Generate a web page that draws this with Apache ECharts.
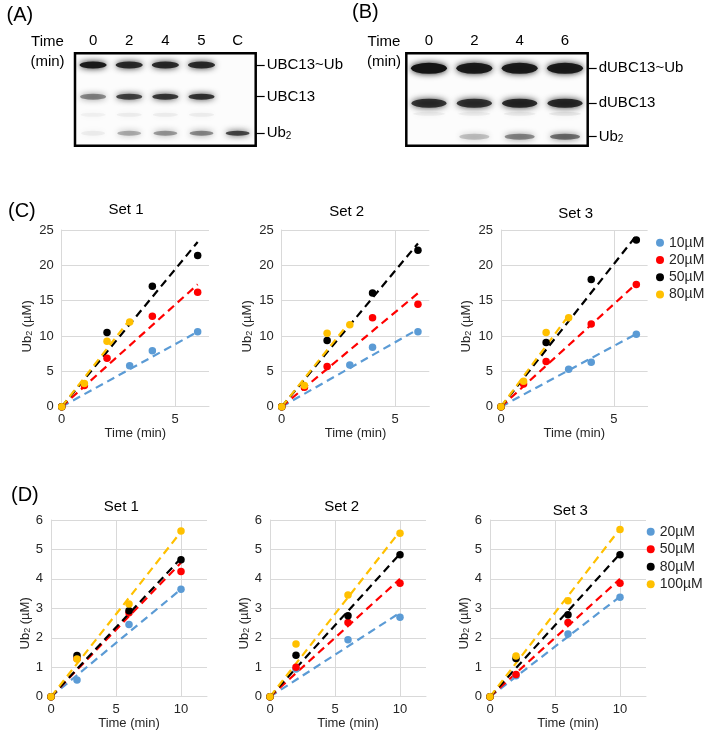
<!DOCTYPE html>
<html><head><meta charset="utf-8">
<script src="https://cdn.jsdelivr.net/npm/echarts@6/dist/echarts.min.js"></script>
<style>html,body{margin:0;padding:0;background:#fff}#c{width:704px;height:740px}</style>
</head><body><div id="c"></div>
<script>
// ---------- Gel (A) ----------
const gelALanes = ['0', '2', '4', '5', 'C'];
const gelALabelPos = [12.7, 47, 86.6];
const gelALabels = ['UBC13~Ub', 'UBC13', 'Ub2'];
const gelABandPos = [12.7, 47, 66.5, 86.6];
const gelAUbc13Ub = [0.95, 0.85, 0.85, 0.85, 0];
const gelAUbc13 = [0.42, 0.72, 0.78, 0.8, 0];
const gelAFaint = [0.04, 0.05, 0.05, 0.05, 0];
const gelAUb2 = [0.05, 0.28, 0.36, 0.42, 0.72];
// ---------- Gel (B) ----------
const gelBLanes = ['0', '2', '4', '6'];
const gelBLabelPos = [16.2, 54.1, 90.3];
const gelBLabels = ['dUBC13~Ub', 'dUBC13', 'Ub2'];
const gelBBandPos = [16.2, 54.1, 65.5, 90.3];
const gelBUbc13Ub = [1, 0.95, 0.95, 0.95];
const gelBUbc13 = [0.8, 0.8, 0.85, 0.85];
const gelBFaint = [0.05, 0.05, 0.06, 0.07];
const gelBUb2 = [0, 0.2, 0.42, 0.52];

// ---------- Panel (C) ----------
const cNames = ['10µM', '20µM', '50µM', '80µM'];
const cTime10 = [0, 3, 4, 6];
const cTime20 = [0, 1, 2, 4, 6];
const cTime50 = [0, 2, 4, 6];
const cTime80 = [0, 1, 2, 3];
const cSet1_10 = [0, 5.8, 7.9, 10.6];
const cSet1_20 = [0, 3.0, 6.85, 12.8, 16.2];
const cSet1_50 = [0, 10.5, 17.05, 21.4];
const cSet1_80 = [0, 3.3, 9.25, 12.0];
const cSet2_10 = [0, 5.9, 8.4, 10.6];
const cSet2_20 = [0, 2.75, 5.67, 12.6, 14.5];
const cSet2_50 = [0, 9.35, 16.1, 22.15];
const cSet2_80 = [0, 3.0, 10.4, 11.6];
const cSet3_10 = [0, 5.3, 6.3, 10.25];
const cSet3_20 = [0, 3.2, 6.4, 11.7, 17.3];
const cSet3_50 = [0, 9.1, 18.0, 23.6];
const cSet3_80 = [0, 3.6, 10.5, 12.6];
const cTrendTime = [6, 6, 6, 3];
const cSet1Trend = [10.6, 17.3, 23.3, 12.3];
const cSet2Trend = [10.95, 16.05, 23.1, 12.0];
const cSet3Trend = [10.3, 17.4, 24.2, 12.9];

// ---------- Panel (D) ----------
const dNames = ['20µM', '50µM', '80µM', '100µM'];
const dTime = [0, 2, 6, 10];
const dSet1_20 = [0, 0.57, 2.45, 3.65];
const dSet1_50 = [0, 1.3, 2.85, 4.25];
const dSet1_80 = [0, 1.4, 2.92, 4.65];
const dSet1_100 = [0, 1.28, 3.15, 5.63];
const dSet2_20 = [0, 0.94, 1.93, 2.7];
const dSet2_50 = [0, 1.0, 2.52, 3.85];
const dSet2_80 = [0, 1.41, 2.75, 4.82];
const dSet2_100 = [0, 1.79, 3.45, 5.55];
const dSet3_20 = [0, 0.71, 2.13, 3.38];
const dSet3_50 = [0, 0.75, 2.52, 3.85];
const dSet3_80 = [0, 1.3, 2.78, 4.82];
const dSet3_100 = [0, 1.38, 3.26, 5.68];
const dTrendTime = [10, 10, 10, 10];
const dSet1Trend = [3.65, 4.55, 4.7, 5.6];
const dSet2Trend = [2.85, 4.0, 4.85, 5.62];
const dSet3Trend = [3.4, 4.0, 4.85, 5.7];

// ---------- build ----------
const FONT = 'Liberation Sans, Arial, sans-serif';
const COLORS = ['#5b9bd5', '#ff0000', '#000000', '#ffc000'];
const TXT = '#262626';
const GRID_C = '#d9d9d9';

const grids = [
  {left: 75, top: 53.3, width: 180.7, height: 92.4},
  {left: 406.3, top: 53.3, width: 181.4, height: 92.4},
  {left: 61.7, top: 230, width: 147.3, height: 176.7},
  {left: 281.7, top: 230, width: 147.6, height: 176.7},
  {left: 501, top: 230, width: 146.6, height: 176.7},
  {left: 51, top: 520, width: 156, height: 176.7},
  {left: 270, top: 520, width: 156, height: 176.7},
  {left: 490, top: 520, width: 156, height: 176.7}
].map((g, i) => Object.assign(g, i < 2 ? {show: true, borderColor: '#000', borderWidth: 2.5, backgroundColor: '#fcfcfc'} : {}));

const xAxes = [], yAxes = [], series = [];
const subRich = {a: {fontSize: 15, color: '#000', fontFamily: FONT}, s: {fontSize: 10, color: '#000', fontFamily: FONT, verticalAlign: 'bottom', lineHeight: 10, padding: [8, 0, 0, 0]}};

function gel(gi, lanes, labelPos, labels, bandPos, bands, sizes) {
  xAxes.push({gridIndex: gi, type: 'category', data: lanes, position: 'top', boundaryGap: true,
    axisLine: {show: false}, axisTick: {show: false}, splitLine: {show: false},
    axisLabel: {fontSize: 15, color: '#000', fontFamily: FONT, margin: 5}});
  yAxes.push({gridIndex: gi, type: 'value', min: 0, max: 100, inverse: true, position: 'right',
    axisLine: {show: false}, splitLine: {show: false},
    axisTick: {show: true, customValues: labelPos, length: 9, lineStyle: {color: '#000', width: 1.2}},
    axisLabel: {customValues: labelPos, margin: 11, fontSize: 15, color: '#000', fontFamily: FONT,
      formatter: v => { const l = labels[labelPos.indexOf(v)]; return l === 'Ub2' ? '{a|Ub}{s|2}' : '{a|' + l + '}'; },
      rich: subRich}});
  const data = [];
  bands.forEach((arr, b) => arr.forEach((v, i) => { if (v > 0) data.push({value: [i, bandPos[b], b], itemStyle: {opacity: v}}); }));
  series.push({type: 'scatter', xAxisIndex: gi, yAxisIndex: gi, data, symbol: 'circle', silent: true,
    symbolSize: val => sizes[val[2]],
    itemStyle: {color: '#151515', shadowBlur: 6, shadowColor: '#151515'}});
}
gel(0, gelALanes, gelALabelPos, gelALabels, gelABandPos, [gelAUbc13Ub, gelAUbc13, gelAFaint, gelAUb2], [[27, 7], [26, 6], [25, 4], [24, 5]]);
gel(1, gelBLanes, gelBLabelPos, gelBLabels, gelBBandPos, [gelBUbc13Ub, gelBUbc13, gelBFaint, gelBUb2], [[36, 11], [35, 9], [32, 4], [30, 6]]);

const axisText = {fontSize: 13, color: TXT, fontFamily: FONT};
function plot(gi, xmax, xint, ymax, yint, nameGapY, nameGapX, padY, times, vals, trendT, trendEnd, names, prefix) {
  xAxes.push({gridIndex: gi, type: 'value', min: 0, max: xmax, interval: xint,
    axisLine: {show: true, lineStyle: {color: GRID_C}}, axisTick: {show: false},
    splitLine: {show: true, showMaxLine: false, lineStyle: {color: GRID_C}},
    axisLabel: Object.assign({showMaxLabel: false, margin: 6}, axisText),
    name: 'Time (min)', nameLocation: 'middle', nameGap: nameGapX, nameTextStyle: axisText});
  yAxes.push({gridIndex: gi, type: 'value', min: 0, max: ymax, interval: yint,
    axisLine: {show: true, lineStyle: {color: GRID_C}}, axisTick: {show: false},
    splitLine: {show: true, lineStyle: {color: GRID_C}},
    axisLabel: Object.assign({margin: 8}, axisText),
    name: '{a|Ub}{s|2}{a| (µM)}', nameLocation: 'middle', nameGap: nameGapY, nameRotate: 90,
    nameTextStyle: {padding: [0, padY, 0, 0], rich: {a: axisText, s: {fontSize: 9, color: TXT, fontFamily: FONT, verticalAlign: 'bottom', lineHeight: 9, padding: [6, 0, 0, 0]}}}});
  for (let k = 0; k < 4; k++) {
    series.push({type: 'line', xAxisIndex: gi, yAxisIndex: gi, data: [[0, 0], [trendT[k], trendEnd[k]]],
      symbol: 'none', silent: true, z: 2, lineStyle: {color: COLORS[k], width: 2.2, type: [8, 5]}});
  }
  for (let k = 0; k < 4; k++) {
    series.push({type: 'scatter', name: prefix + names[k], xAxisIndex: gi, yAxisIndex: gi,
      data: times[k].map((t, j) => [t, vals[k][j]]), symbolSize: 7.5, z: 3,
      itemStyle: {color: COLORS[k], opacity: 1}});
  }
}
const cTimes = [cTime10, cTime20, cTime50, cTime80];
plot(2, 6.5, 5, 25, 5, 28, 14, 16, cTimes, [cSet1_10, cSet1_20, cSet1_50, cSet1_80], cTrendTime, cSet1Trend, cNames, 'C:');
plot(3, 6.5, 5, 25, 5, 28, 14, 16, cTimes, [cSet2_10, cSet2_20, cSet2_50, cSet2_80], cTrendTime, cSet2Trend, cNames, 'C:');
plot(4, 6.5, 5, 25, 5, 28, 14, 16, cTimes, [cSet3_10, cSet3_20, cSet3_50, cSet3_80], cTrendTime, cSet3Trend, cNames, 'C:');
const dTimes = [dTime, dTime, dTime, dTime];
plot(5, 12, 5, 6, 1, 19, 20, 30, dTimes, [dSet1_20, dSet1_50, dSet1_80, dSet1_100], dTrendTime, dSet1Trend, dNames, 'D:');
plot(6, 12, 5, 6, 1, 19, 20, 30, dTimes, [dSet2_20, dSet2_50, dSet2_80, dSet2_100], dTrendTime, dSet2Trend, dNames, 'D:');
plot(7, 12, 5, 6, 1, 19, 20, 30, dTimes, [dSet3_20, dSet3_50, dSet3_80, dSet3_100], dTrendTime, dSet3Trend, dNames, 'D:');

function t(text, x, y, size, align) {
  return {text, left: x, top: y, textAlign: align || 'left', textVerticalAlign: 'middle', padding: 0,
    textStyle: {fontSize: size, fontWeight: 'normal', color: '#000', fontFamily: FONT}};
}
const titles = [
  t('(A)', 6.5, 15.5, 20), t('(B)', 352, 12, 20), t('(C)', 8, 211, 20), t('(D)', 11, 495, 20),
  t('Time', 47.5, 41.7, 15, 'center'), t('(min)', 47.5, 61.7, 15, 'center'),
  t('Time', 384, 41.7, 15, 'center'), t('(min)', 384, 61.7, 15, 'center'),
  t('Set 1', 126, 210, 15, 'center'), t('Set 2', 346.7, 211.7, 15, 'center'), t('Set 3', 575.7, 214, 15, 'center'),
  t('Set 1', 121.3, 507.3, 15, 'center'), t('Set 2', 341.7, 507.3, 15, 'center'), t('Set 3', 570.3, 510.5, 15, 'center')
];

const legendBase = {orient: 'vertical', icon: 'circle', itemWidth: 8, itemHeight: 8,
  textStyle: {fontSize: 14, color: TXT, fontFamily: FONT, lineHeight: 14}, padding: 0,
  formatter: n => n.slice(2), selectedMode: false};
const legends = [
  Object.assign({left: 656, top: 235.7, itemGap: 3.3, data: cNames.map(n => 'C:' + n)}, legendBase),
  Object.assign({left: 646.7, top: 524.7, itemGap: 3.5, data: dNames.map(n => 'D:' + n)}, legendBase)
];

const chart = echarts.init(document.getElementById('c'), null, {renderer: 'canvas'});
chart.setOption({animation: false, backgroundColor: '#fff', title: titles, legend: legends,
  grid: grids, xAxis: xAxes, yAxis: yAxes, series});
</script></body></html>
